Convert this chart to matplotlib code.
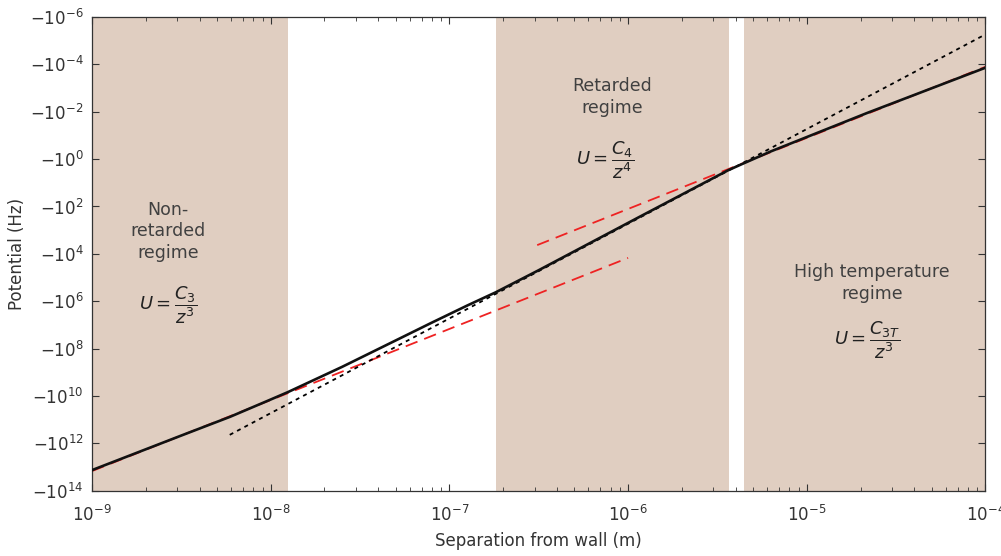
import matplotlib
matplotlib.use('Agg')
import matplotlib.pyplot as plt
from matplotlib.ticker import FixedLocator, NullLocator, LogLocator, FuncFormatter
import numpy as np

# separation from wall (m) and |potential| (Hz)
sep_m = [1e-9, 3.16e-9, 5.92e-9, 1e-8, 1.245e-8, 2.51e-8, 4.25e-8, 7.94e-8,
         1.26e-7, 1.82e-7, 3.16e-7, 1.17e-6, 3.63e-6, 4.37e-6, 6.31e-6,
         2.16e-5, 1e-4]
pot_hz = [1.35e13, 4.68e11, 7.59e10, 1.41e10, 6.92e9, 5.89e8, 8.32e7, 8.13e6,
          1.51e6, 4.17e5, 4.90e4, 263, 2.95, 1.58, 0.468, 1.15e-2, 1.38e-4]

# asymptotes
c3_sep = [1e-9, 1e-6]
c3_pot = [1.48e13, 1.48e4]
c3t_sep = [3.1e-7, 1e-4]
c3t_pot = [4.27e3, 1.26e-4]
c4_sep = [5.9e-9, 1e-4]
c4_pot = [4.37e11, 5.4e-6]

# regime boundaries (m)
regimes = [(1e-9, 1.245e-8), (1.82e-7, 3.67e-6), (4.46e-6, 1e-4)]

x_exps = [-9, -8, -7, -6, -5, -4]
y_exps = [-6, -4, -2, 0, 2, 4, 6, 8, 10, 12, 14]

plt.rcParams['font.family'] = ['DejaVu Sans']
plt.rcParams['mathtext.fontset'] = 'dejavusans'

fig = plt.figure(figsize=(10.01, 5.56), dpi=100)
ax = fig.add_axes([0.0919, 0.1174, 0.8926, 0.852])

shade = '#e0cec1'
for lo, hi in regimes:
    ax.axvspan(lo, hi, color=shade, lw=0, zorder=0)

ax.plot(c3_sep, c3_pot, color='#ee2222', lw=1.3, dashes=(7, 4), zorder=2)
ax.plot(c3t_sep, c3t_pot, color='#ee2222', lw=1.3, dashes=(7, 4), zorder=2)
ax.plot(c4_sep, c4_pot, color='black', lw=1.3, dashes=(2.2, 2.4), zorder=2)
ax.plot(sep_m, pot_hz, color='#111111', lw=1.9, zorder=3)

ax.set_xscale('log')
ax.set_yscale('log')
ax.set_xlim(1e-9, 1e-4)
ax.set_ylim(1e14, 1e-6)

ax.yaxis.set_major_locator(FixedLocator([10.0**k for k in y_exps]))
ax.yaxis.set_minor_locator(NullLocator())
ax.yaxis.set_major_formatter(FuncFormatter(
    lambda v, p: r'$-10^{%d}$' % int(round(np.log10(v)))))
ax.xaxis.set_major_locator(FixedLocator([10.0**k for k in x_exps]))
ax.xaxis.set_minor_locator(LogLocator(base=10, subs=np.arange(2, 10), numticks=20))
ax.xaxis.set_major_formatter(FuncFormatter(
    lambda v, p: r'$10^{%d}$' % int(round(np.log10(v)))))

ax.tick_params(which='both', direction='in', top=True, right=True,
               colors='#333333', labelsize=12, labelcolor='#333333')
ax.tick_params(which='major', length=5, width=0.8)
ax.tick_params(which='minor', length=3, width=0.6)
ax.tick_params(axis='x', which='major', pad=10)
ax.tick_params(axis='y', which='major', pad=6)
for s in ax.spines.values():
    s.set_color('#333333')
    s.set_linewidth(0.9)

ax.set_xlabel('Separation from wall (m)', fontsize=12, color='#333333', labelpad=5)
ax.set_ylabel('Potential (Hz)', fontsize=12, color='#333333', labelpad=3)

tc = '#404040'
ax.text(0.085, 0.548, 'Non-\nretarded\nregime', transform=ax.transAxes,
        ha='center', va='center', fontsize=12.5, color=tc, linespacing=1.25)
ax.text(0.085, 0.392, r'$U=\dfrac{C_3}{z^3}$', transform=ax.transAxes,
        ha='center', va='center', fontsize=13, color='#222222')
ax.text(0.582, 0.831, 'Retarded\nregime', transform=ax.transAxes,
        ha='center', va='center', fontsize=12.5, color=tc, linespacing=1.25)
ax.text(0.574, 0.698, r'$U=\dfrac{C_4}{z^4}$', transform=ax.transAxes,
        ha='center', va='center', fontsize=13, color='#222222')
ax.text(0.873, 0.438, 'High temperature\nregime', transform=ax.transAxes,
        ha='center', va='center', fontsize=12.5, color=tc, linespacing=1.25)
ax.text(0.868, 0.318, r'$U=\dfrac{C_{3T}}{z^3}$', transform=ax.transAxes,
        ha='center', va='center', fontsize=13, color='#222222')

fig.savefig('out.png', dpi=100)
